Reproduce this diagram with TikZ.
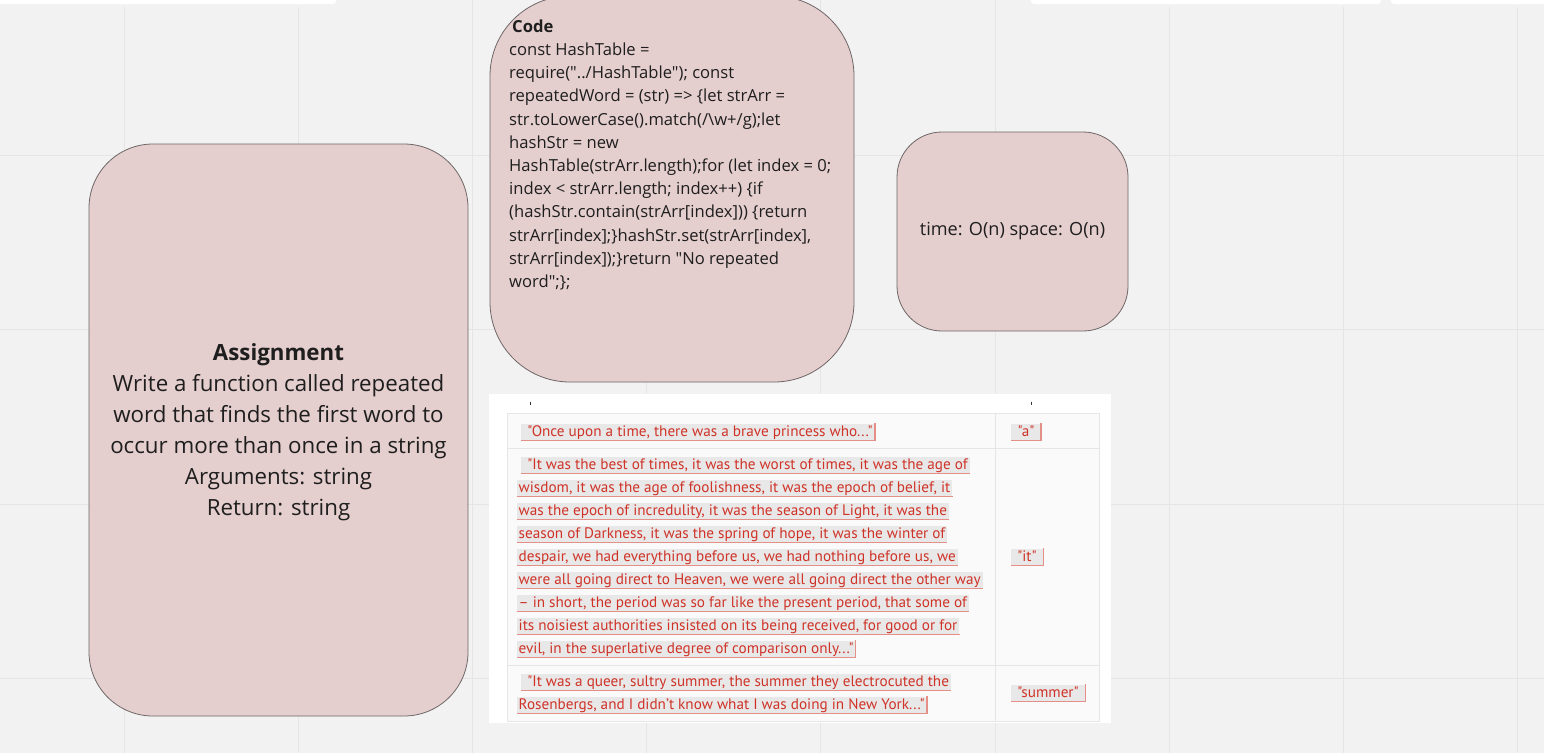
\documentclass[tikz,border=0pt]{standalone}
\usepackage{fontspec}
\setmainfont{Open Sans}[Ligatures=TeXOff]
\newfontfamily\quotefont{PT Sans}[Ligatures=TeXOff]
\usepackage{xcolor}
\usetikzlibrary{positioning, calc}

\definecolor{boardbg}{HTML}{F2F2F2}
\definecolor{gridline}{HTML}{E5E5E5}
\definecolor{cardfill}{HTML}{E5CECE}
\definecolor{cardedge}{HTML}{6F6767}
\definecolor{inktext}{HTML}{1E1E1E}
\definecolor{quotered}{HTML}{CF3328}
\definecolor{chipbg}{HTML}{E8E8E8}
\definecolor{tableedge}{HTML}{E6E6E6}
\definecolor{tablecell}{HTML}{FAFAFA}

\begin{document}
\begin{tikzpicture}[
    x=1pt, y=-1pt,
    every node/.style={inner sep=0pt, text=inktext},
    card/.style={draw=cardedge, line width=0.8pt, fill=cardfill},
    qline/.style={anchor=base west, fill=chipbg, text=quotered,
        font=\quotefont\fontsize{15.2}{15}\selectfont,
        inner xsep=2pt, inner ysep=1.5pt, text height=11pt, text depth=3pt,
        append after command={(\tikzlastnode.south west) edge[draw=quotered!55, line width=1.3pt] (\tikzlastnode.south east)}},
    qend/.style={qline,
        append after command={(\tikzlastnode.south east) edge[draw=quotered!55, line width=1.3pt] (\tikzlastnode.north east)}},
    qword/.style={qend, anchor=base, inner xsep=6.5pt}
]

% Board
\useasboundingbox (0,0) rectangle (1544,753);
\fill[boardbg] (0,0) rectangle (1544,753);
\foreach \k in {0,...,8}
    \draw[gridline, line width=1pt] ({124+174.2*\k},0) -- ({124+174.2*\k},753);
\foreach \k in {0,...,3}
    \draw[gridline, line width=1pt] (0,{155.7+174.2*\k}) -- (1544,{155.7+174.2*\k});

% Cards peeking in at the top
\foreach \a/\b in {-10/336, 1031/1381, 1391/1560} {
    \fill[black!5, rounded corners=3pt] (\a-2,-10) rectangle (\b+2,7);
    \fill[white, rounded corners=3pt] (\a,-10) rectangle (\b,4);
}

% Sticky notes
\node[card, rounded corners=64pt, minimum width=379pt, minimum height=572pt] (assign) at (278.5,430) {};
\node[align=center, font=\fontsize{22.3}{31}\selectfont] (assigntext) at ([yshift=-2pt]assign.center)
    {\textbf{Assignment}\\Write a function called repeated\\word that finds the first word to\\occur more than once in a string\\Arguments: string\\Return: string};

\node[card, rounded corners=80pt, minimum width=364pt, minimum height=386pt] (codebox) at (672,189) {};
\node[anchor=north west, align=left, font=\fontsize{16.6}{23.2}\selectfont] (codetext) at (509,19.5)
    {\hspace{3pt}\textbf{Code}\\
     const HashTable =\\
     require("../HashTable"); const\\
     repeatedWord = (str) => \{let strArr =\\
     str.toLowerCase().match(/\textbackslash w+/g);let\\
     hashStr = new\\
     HashTable(strArr.length);for (let index = 0;\\
     index < strArr.length; index++) \{if\\
     (hashStr.contain(strArr[index])) \{return\\
     strArr[index];\}hashStr.set(strArr[index],\\
     strArr[index]);\}return "No repeated\\
     word";\};};

\node[card, rounded corners=45pt, minimum width=231pt, minimum height=199pt] (timebox) at (1012.5,231.5) {};
\node[font=\fontsize{18.1}{22}\selectfont] (timetext) at (timebox.center) {time: O(n) space: O(n)};

% Sample table
\node[fill=white, minimum width=622pt, minimum height=329pt, anchor=north west] (tablebg) at (489,394) {};
\draw[tableedge, fill=tablecell, line width=1pt] (507,413) rectangle (1099,721);
\draw[tableedge, line width=1pt] (507,448) -- (1099,448) (507,665) -- (1099,665) (995,413) -- (995,721);
\draw[black!80, line width=1pt] (530.5,401.5) -- (530.5,405) (1031,401.5) -- (1031,405);

\node[qend] (q1) at (521,436) {\ "Once upon a time, there was a brave princess who..."};

\node[qline] (q2a) at (521,469) {\ "It was the best of times, it was the worst of times, it was the age of};
\node[qline] (q2b) at (516.5,492) {wisdom, it was the age of foolishness, it was the epoch of belief, it};
\node[qline] (q2c) at (516.5,515) {was the epoch of incredulity, it was the season of Light, it was the};
\node[qline] (q2d) at (516.5,538) {season of Darkness, it was the spring of hope, it was the winter of};
\node[qline] (q2e) at (516.5,561) {despair, we had everything before us, we had nothing before us, we};
\node[qline] (q2f) at (516.5,584) {were all going direct to Heaven, we were all going direct the other way};
\node[qline] (q2g) at (516.5,607) {– in short, the period was so far like the present period, that some of};
\node[qline] (q2h) at (516.5,630) {its noisiest authorities insisted on its being received, for good or for};
\node[qend] (q2i) at (516.5,653) {evil, in the superlative degree of comparison only..."};

\node[qline] (q3a) at (521,686) {\ "It was a queer, sultry summer, the summer they electrocuted the};
\node[qend] (q3b) at (516.5,709) {Rosenbergs, and I didn’t know what I was doing in New York..."};

\node[qword] (a1) at (1026,436) {"a"};
\node[qword] (a2) at (1027,561) {"it"};
\node[qword] (a3) at (1048,697) {"summer"};

\end{tikzpicture}
\end{document}
